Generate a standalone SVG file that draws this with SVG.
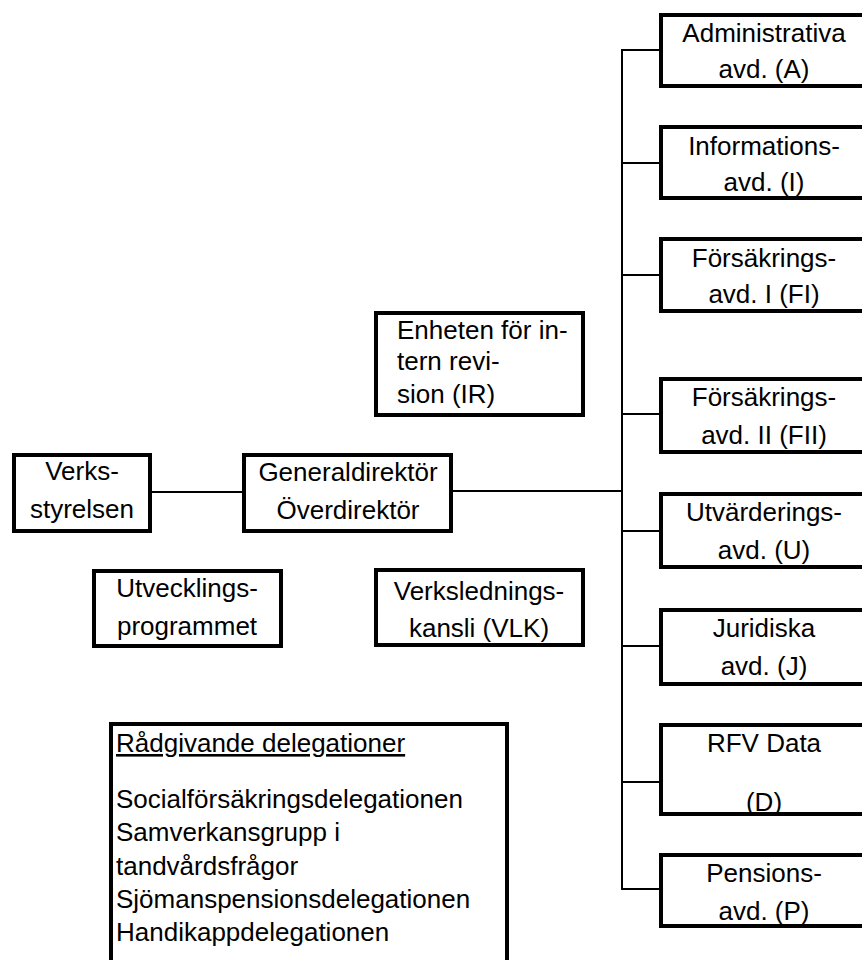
<svg xmlns="http://www.w3.org/2000/svg" width="862" height="960" viewBox="0 0 862 960">
<style>
.box{fill:#fff;stroke:#000;stroke-width:4}
.c{fill:none;stroke:#000;stroke-width:2}
text{font-family:"Liberation Sans",Arial,sans-serif;font-size:26px;fill:#000}
.m{text-anchor:middle}
</style>
<rect width="862" height="960" fill="#fff"/>
<g id="connectors">
<line class="c" x1="152" y1="492" x2="242" y2="492"/>
<line class="c" x1="453" y1="491" x2="622" y2="491"/>
<line class="c" x1="622" y1="49" x2="622" y2="890"/>
<line class="c" x1="621" y1="50" x2="660" y2="50"/>
<line class="c" x1="621" y1="163" x2="660" y2="163"/>
<line class="c" x1="621" y1="275" x2="660" y2="275"/>
<line class="c" x1="621" y1="414" x2="660" y2="414"/>
<line class="c" x1="621" y1="531" x2="660" y2="531"/>
<line class="c" x1="621" y1="646" x2="660" y2="646"/>
<line class="c" x1="621" y1="782" x2="660" y2="782"/>
<line class="c" x1="621" y1="889" x2="660" y2="889"/>
</g>
<g id="verksstyrelsen">
<rect class="box" x="14" y="455" width="136" height="76"/>
<text class="m" x="82" y="480">Verks-</text>
<text class="m" x="82" y="518">styrelsen</text>
</g>
<g id="generaldirektor">
<rect class="box" x="244" y="455" width="207" height="76"/>
<text class="m" x="348" y="481">Generaldirektör</text>
<text class="m" x="348" y="519">Överdirektör</text>
</g>
<g id="intern-revision">
<rect class="box" x="376" y="313" width="207" height="102"/>
<text x="397" y="339">Enheten för in-</text>
<text x="397" y="370">tern revi-</text>
<text x="397" y="403">sion (IR)</text>
</g>
<g id="utvecklingsprogrammet">
<rect class="box" x="94" y="571" width="187" height="75"/>
<text class="m" x="187" y="597">Utvecklings-</text>
<text class="m" x="187" y="635">programmet</text>
</g>
<g id="vlk">
<rect class="box" x="376" y="570" width="207" height="75"/>
<text class="m" x="479" y="600">Verkslednings-</text>
<text class="m" x="479" y="637">kansli (VLK)</text>
</g>
<g id="radgivande">
<rect class="box" x="111" y="724" width="396" height="260"/>
<text x="116" y="752" text-decoration="underline">Rådgivande delegationer</text>
<text x="116" y="808">Socialförsäkringsdelegationen</text>
<text x="116" y="841">Samverkansgrupp i</text>
<text x="116" y="875">tandvårdsfrågor</text>
<text x="116" y="908">Sjömanspensionsdelegationen</text>
<text x="116" y="941">Handikappdelegationen</text>
</g>
<g id="avd-a">
<rect class="box" x="661" y="15" width="230" height="71"/>
<text class="m" x="764" y="42">Administrativa</text>
<text class="m" x="764" y="78">avd. (A)</text>
</g>
<g id="avd-i">
<rect class="box" x="661" y="127" width="230" height="71"/>
<text class="m" x="764" y="155">Informations-</text>
<text class="m" x="764" y="191">avd. (I)</text>
</g>
<g id="avd-fi">
<rect class="box" x="661" y="239" width="230" height="72"/>
<text class="m" x="764" y="267">Försäkrings-</text>
<text class="m" x="764" y="303">avd. I (FI)</text>
</g>
<g id="avd-fii">
<rect class="box" x="661" y="379" width="230" height="73"/>
<text class="m" x="764" y="406">Försäkrings-</text>
<text class="m" x="764" y="444">avd. II (FII)</text>
</g>
<g id="avd-u">
<rect class="box" x="661" y="494" width="230" height="73"/>
<text class="m" x="764" y="521">Utvärderings-</text>
<text class="m" x="764" y="559">avd. (U)</text>
</g>
<g id="avd-j">
<rect class="box" x="661" y="610" width="230" height="74"/>
<text class="m" x="764" y="637">Juridiska</text>
<text class="m" x="764" y="675">avd. (J)</text>
</g>
<g id="avd-d">
<rect class="box" x="661" y="725" width="230" height="89"/>
<text class="m" x="764" y="752">RFV Data</text>
<text class="m" x="764" y="811">(D)</text>
</g>
<g id="avd-p">
<rect class="box" x="661" y="855" width="230" height="71"/>
<text class="m" x="764" y="882">Pensions-</text>
<text class="m" x="764" y="920">avd. (P)</text>
</g>
</svg>
